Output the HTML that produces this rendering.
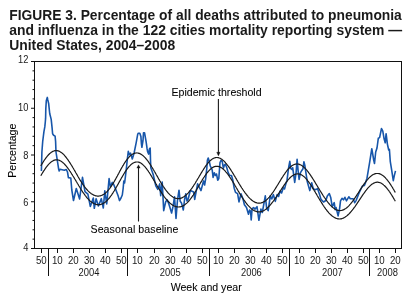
<!DOCTYPE html>
<html><head><meta charset="utf-8"><style>
html,body{margin:0;padding:0;background:#fff;width:412px;height:307px;overflow:hidden}
svg{display:block;will-change:transform}
</style></head><body>
<svg width="412" height="307" viewBox="0 0 412 307">
<g font-family="Liberation Sans, sans-serif" font-weight="bold" font-size="13.9" fill="#1a1a1a">
<text x="9.2" y="20.2" font-size="13.84">FIGURE 3. Percentage of all deaths attributed to pneumonia</text>
<text x="9.2" y="34.5">and influenza in the 122 cities mortality reporting system —</text>
<text x="9.2" y="50.1">United States, 2004–2008</text>
</g>
<rect x="34.5" y="61.5" width="367.0" height="187.0" fill="none" stroke="#111" stroke-width="1"/>
<path d="M31.0,248.50 H34.5 M32.5,239.15 H34.5 M32.5,229.80 H34.5 M32.5,220.45 H34.5 M32.5,211.10 H34.5 M31.0,201.75 H34.5 M32.5,192.40 H34.5 M32.5,183.05 H34.5 M32.5,173.70 H34.5 M32.5,164.35 H34.5 M31.0,155.00 H34.5 M32.5,145.65 H34.5 M32.5,136.30 H34.5 M32.5,126.95 H34.5 M32.5,117.60 H34.5 M31.0,108.25 H34.5 M32.5,98.90 H34.5 M32.5,89.55 H34.5 M32.5,80.20 H34.5 M32.5,70.85 H34.5 M31.0,61.50 H34.5 M41.5,248.5 V253.0 M57.5,248.5 V253.0 M73.5,248.5 V253.0 M89.5,248.5 V253.0 M105.5,248.5 V253.0 M121.5,248.5 V253.0 M137.5,248.5 V253.0 M154.5,248.5 V253.0 M170.5,248.5 V253.0 M186.5,248.5 V253.0 M202.5,248.5 V253.0 M218.5,248.5 V253.0 M234.5,248.5 V253.0 M250.5,248.5 V253.0 M266.5,248.5 V253.0 M282.5,248.5 V253.0 M299.5,248.5 V253.0 M315.5,248.5 V253.0 M331.5,248.5 V253.0 M347.5,248.5 V253.0 M363.5,248.5 V253.0 M379.5,248.5 V253.0 M395.5,248.5 V253.0 M48.5,248.5 V276 M127.5,248.5 V276 M209.5,248.5 V276 M289.5,248.5 V276 M369.5,248.5 V276" stroke="#111" stroke-width="1" fill="none"/>
<g font-family="Liberation Sans, sans-serif" font-size="10.1" fill="#1a1a1a" text-anchor="middle">
<text transform="translate(41.3,264) scale(0.96,1)">50</text>
<text transform="translate(57.3,264) scale(0.96,1)">10</text>
<text transform="translate(73.3,264) scale(0.96,1)">20</text>
<text transform="translate(89.3,264) scale(0.96,1)">30</text>
<text transform="translate(105.3,264) scale(0.96,1)">40</text>
<text transform="translate(121.3,264) scale(0.96,1)">50</text>
<text transform="translate(137.3,264) scale(0.96,1)">10</text>
<text transform="translate(154.3,264) scale(0.96,1)">20</text>
<text transform="translate(170.3,264) scale(0.96,1)">30</text>
<text transform="translate(186.3,264) scale(0.96,1)">40</text>
<text transform="translate(202.3,264) scale(0.96,1)">50</text>
<text transform="translate(218.3,264) scale(0.96,1)">10</text>
<text transform="translate(234.3,264) scale(0.96,1)">20</text>
<text transform="translate(250.3,264) scale(0.96,1)">30</text>
<text transform="translate(266.3,264) scale(0.96,1)">40</text>
<text transform="translate(282.3,264) scale(0.96,1)">50</text>
<text transform="translate(299.3,264) scale(0.96,1)">10</text>
<text transform="translate(315.3,264) scale(0.96,1)">20</text>
<text transform="translate(331.3,264) scale(0.96,1)">30</text>
<text transform="translate(347.3,264) scale(0.96,1)">40</text>
<text transform="translate(363.3,264) scale(0.96,1)">50</text>
<text transform="translate(379.3,264) scale(0.96,1)">10</text>
<text transform="translate(395.3,264) scale(0.96,1)">20</text>
<text font-size="10.1" transform="translate(88.95,275.5) scale(0.93,1)">2004</text>
<text font-size="10.1" transform="translate(170.2,275.5) scale(0.93,1)">2005</text>
<text font-size="10.1" transform="translate(251.4,275.5) scale(0.93,1)">2006</text>
<text font-size="10.1" transform="translate(332.4,275.5) scale(0.93,1)">2007</text>
<text font-size="10.1" transform="translate(387.5,275.5) scale(0.93,1)">2008</text>
</g>
<g font-family="Liberation Sans, sans-serif" font-size="10.1" fill="#1a1a1a" text-anchor="end">
<text transform="translate(28.4,250.6) scale(0.92,1)">4</text>
<text transform="translate(28.4,206.3) scale(0.92,1)">6</text>
<text transform="translate(28.4,159.3) scale(0.92,1)">8</text>
<text transform="translate(28.4,110.6) scale(0.92,1)">10</text>
<text transform="translate(28.4,63.1) scale(0.92,1)">12</text>
</g>
<g font-family="Liberation Sans, sans-serif" font-size="10.6" fill="#000" stroke="#000" stroke-width="0.07">
<text x="171.5" y="95.8">Epidemic threshold</text>
<text x="90.5" y="232.7" letter-spacing="0.08">Seasonal baseline</text>
<text x="206.2" y="290.9" text-anchor="middle">Week and year</text>
<text transform="translate(15.6,150.7) rotate(-90)" text-anchor="middle">Percentage</text>
</g>
<path d="M41.4,171.0 L41.9,152.0 L42.7,141.5 L43.9,131.8 L44.8,126.9 L45.3,122.0 L45.6,118.4 L45.8,108.6 L46.3,100.8 L47.3,97.4 L47.8,99.9 L48.7,103.8 L49.7,113.5 L51.2,119.4 L52.1,127.9 L52.6,133.7 L53.6,135.2 L55.1,136.1 L55.6,141.5 L56.0,152.0 L57.5,161.7 L58.7,169.3 L59.2,171.0 L60.0,169.3 L64.3,170.3 L66.3,169.5 L67.5,172.0 L68.4,177.6 L70.8,178.0 L71.8,190.0 L73.5,200.5 L76.3,188.5 L79.6,199.0 L82.5,177.4 L85.0,191.7 L87.9,194.2 L90.3,206.4 L93.3,198.0 L94.3,208.3 L96.1,198.7 L98.4,206.0 L101.3,198.7 L103.3,208.0 L104.8,190.9 L106.7,204.0 L109.1,178.5 L110.4,187.0 L112.3,182.4 L113.6,184.3 L116.3,190.9 L118.2,196.1 L119.5,200.6 L121.0,198.0 L122.3,195.0 L123.2,188.0 L123.8,181.0 L124.6,183.0 L125.5,176.0 L126.3,169.0 L127.3,159.4 L128.3,151.4 L129.4,154.8 L130.5,153.1 L132.3,159.0 L134.1,153.0 L136.2,142.6 L137.7,134.3 L138.3,133.2 L139.8,133.2 L140.9,136.4 L141.4,143.7 L141.9,147.3 L143.0,140.5 L143.5,132.7 L144.5,132.7 L145.0,135.3 L146.1,141.6 L147.1,148.9 L147.7,152.0 L148.7,154.1 L149.4,149.0 L150.2,148.0 L150.5,160.0 L150.8,167.7 L151.7,170.2 L153.2,174.5 L155.2,183.3 L155.8,185.9 L157.8,189.3 L159.7,183.9 L160.7,195.6 L162.2,182.0 L163.7,210.6 L165.7,201.8 L167.2,199.8 L169.1,204.7 L171.6,213.0 L173.0,206.7 L174.5,196.9 L176.0,218.4 L177.5,200.0 L179.0,190.2 L180.2,201.3 L181.5,203.0 L183.3,210.0 L184.5,200.0 L185.8,193.9 L187.0,201.0 L188.2,199.0 L190.3,190.5 L193.7,192.0 L194.7,199.4 L197.6,183.8 L201.0,190.6 L203.5,180.9 L204.6,185.0 L205.7,178.5 L206.8,168.2 L207.4,160.3 L208.2,158.0 L209.1,160.8 L210.3,166.0 L211.4,168.2 L212.2,170.0 L213.1,177.4 L214.3,172.8 L215.4,175.5 L216.5,174.0 L217.7,180.2 L218.8,178.5 L219.4,170.5 L220.0,162.5 L221.1,160.3 L222.2,161.4 L223.4,168.2 L224.5,164.8 L225.4,164.2 L226.8,167.7 L228.2,172.6 L229.7,175.5 L231.5,175.5 L232.8,180.0 L234.2,188.2 L235.5,192.3 L237.6,193.7 L239.0,201.9 L241.0,193.7 L243.1,199.2 L244.4,204.7 L246.5,207.4 L248.5,214.2 L249.6,210.0 L250.6,211.5 L251.2,220.0 L252.1,208.6 L253.6,207.6 L255.0,209.1 L257.0,206.7 L258.9,220.3 L260.9,209.1 L262.3,212.5 L265.3,195.9 L266.7,208.6 L268.2,210.6 L270.3,195.8 L271.8,199.0 L273.4,194.6 L275.3,201.4 L277.1,194.6 L278.6,196.5 L280.2,190.9 L281.6,193.0 L283.3,187.8 L284.5,189.0 L285.8,184.1 L287.0,180.4 L288.3,170.0 L288.8,166.7 L289.8,161.4 L290.8,168.7 L292.2,169.7 L292.7,167.7 L294.7,182.4 L296.1,172.6 L297.1,159.4 L298.1,170.6 L299.1,179.4 L300.5,172.6 L302.0,170.2 L303.0,168.7 L303.9,161.8 L304.9,165.8 L305.9,172.6 L307.3,181.8 L309.8,190.6 L311.7,182.8 L313.2,188.7 L315.2,189.7 L317.6,188.7 L319.6,194.5 L321.0,199.4 L323.5,202.0 L325.9,200.5 L327.3,195.9 L329.3,193.5 L330.8,197.8 L332.2,206.6 L333.2,204.7 L334.2,202.7 L335.2,209.6 L336.1,207.6 L338.1,215.9 L339.6,208.6 L340.5,200.8 L342.0,198.3 L343.5,199.8 L344.9,197.3 L346.4,200.8 L348.8,196.8 L350.3,198.8 L353.2,198.8 L354.7,202.7 L356.2,200.3 L359.1,192.9 L360.5,190.0 L362.4,186.0 L364.4,185.4 L365.7,182.1 L367.0,178.2 L368.3,170.4 L369.6,162.6 L371.8,148.7 L373.7,160.0 L374.5,163.5 L375.7,152.0 L377.0,148.0 L378.3,138.3 L379.6,137.6 L381.5,128.5 L382.8,131.1 L384.1,138.9 L385.2,142.8 L386.1,133.7 L387.4,144.1 L388.7,150.0 L389.4,149.4 L390.3,161.7 L391.6,169.6 L393.3,180.6 L394.2,176.1 L395.5,170.9" stroke="#1756aa" stroke-width="1.6" fill="none" stroke-linejoin="round"/>
<path d="M40.8,165.9 L41.3,165.0 L41.8,164.2 L42.3,163.4 L42.8,162.6 L43.3,161.8 L43.8,161.0 L44.3,160.2 L44.8,159.5 L45.3,158.8 L45.8,158.1 L46.3,157.4 L46.8,156.8 L47.3,156.2 L47.8,155.6 L48.3,155.0 L48.8,154.5 L49.3,154.0 L49.8,153.5 L50.3,153.1 L50.8,152.7 L51.3,152.3 L51.8,152.0 L52.3,151.7 L52.8,151.4 L53.3,151.2 L53.8,151.0 L54.3,150.8 L54.8,150.7 L55.3,150.6 L55.8,150.6 L56.3,150.6 L56.8,150.6 L57.3,150.7 L57.8,150.8 L58.3,150.9 L58.8,151.1 L59.3,151.3 L59.8,151.6 L60.3,151.9 L60.8,152.2 L61.3,152.5 L61.8,152.9 L62.3,153.3 L62.8,153.7 L63.3,154.2 L63.8,154.7 L64.3,155.2 L64.8,155.8 L65.3,156.4 L65.8,157.0 L66.3,157.6 L66.8,158.3 L67.3,158.9 L67.8,159.6 L68.3,160.3 L68.8,161.1 L69.3,161.8 L69.8,162.6 L70.3,163.4 L70.8,164.2 L71.3,165.0 L71.8,165.8 L72.3,166.6 L72.8,167.5 L73.3,168.3 L73.8,169.2 L74.3,170.0 L74.8,170.9 L75.3,171.8 L75.8,172.7 L76.3,173.5 L76.8,174.4 L77.3,175.3 L77.8,176.2 L78.3,177.0 L78.8,177.9 L79.3,178.7 L79.8,179.6 L80.3,180.4 L80.8,181.2 L81.3,182.0 L81.8,182.8 L82.3,183.5 L82.8,184.3 L83.3,185.0 L83.8,185.7 L84.3,186.4 L84.8,187.0 L85.3,187.7 L85.8,188.3 L86.3,188.9 L86.8,189.5 L87.3,190.0 L87.8,190.6 L88.3,191.1 L88.8,191.6 L89.3,192.0 L89.8,192.5 L90.3,192.9 L90.8,193.3 L91.3,193.7 L91.8,194.0 L92.3,194.3 L92.8,194.6 L93.3,194.9 L93.8,195.1 L94.3,195.3 L94.8,195.5 L95.3,195.7 L95.8,195.8 L96.3,195.9 L96.8,196.0 L97.3,196.1 L97.8,196.1 L98.3,196.1 L98.8,196.1 L99.3,196.0 L99.8,195.9 L100.3,195.8 L100.8,195.7 L101.3,195.5 L101.8,195.3 L102.3,195.1 L102.8,194.8 L103.3,194.6 L103.8,194.2 L104.3,193.9 L104.8,193.5 L105.3,193.1 L105.8,192.7 L106.3,192.2 L106.8,191.8 L107.3,191.3 L107.8,190.7 L108.3,190.1 L108.8,189.6 L109.3,188.9 L109.8,188.3 L110.3,187.6 L110.8,186.9 L111.3,186.2 L111.8,185.4 L112.3,184.7 L112.8,183.9 L113.3,183.1 L113.8,182.2 L114.3,181.4 L114.8,180.5 L115.3,179.6 L115.8,178.7 L116.3,177.8 L116.8,176.9 L117.3,176.0 L117.8,175.0 L118.3,174.1 L118.8,173.2 L119.3,172.2 L119.8,171.3 L120.3,170.4 L120.8,169.4 L121.3,168.5 L121.8,167.6 L122.3,166.8 L122.8,165.9 L123.3,165.1 L123.8,164.2 L124.3,163.4 L124.8,162.7 L125.3,161.9 L125.8,161.2 L126.3,160.5 L126.8,159.8 L127.3,159.1 L127.8,158.5 L128.3,157.9 L128.8,157.4 L129.3,156.8 L129.8,156.3 L130.3,155.9 L130.8,155.4 L131.3,155.0 L131.8,154.7 L132.3,154.3 L132.8,154.0 L133.3,153.8 L133.8,153.6 L134.3,153.4 L134.8,153.2 L135.3,153.1 L135.8,153.0 L136.3,153.0 L136.8,152.9 L137.3,153.0 L137.8,153.0 L138.3,153.1 L138.8,153.3 L139.3,153.4 L139.8,153.6 L140.3,153.9 L140.8,154.1 L141.3,154.4 L141.8,154.7 L142.3,155.1 L142.8,155.5 L143.3,155.9 L143.8,156.4 L144.3,156.9 L144.8,157.4 L145.3,157.9 L145.8,158.5 L146.3,159.1 L146.8,159.7 L147.3,160.3 L147.8,161.0 L148.3,161.6 L148.8,162.4 L149.3,163.1 L149.8,163.8 L150.3,164.6 L150.8,165.4 L151.3,166.1 L151.8,167.0 L152.3,167.8 L152.8,168.6 L153.3,169.5 L153.8,170.3 L154.3,171.2 L154.8,172.0 L155.3,172.9 L155.8,173.8 L156.3,174.7 L156.8,175.5 L157.3,176.4 L157.8,177.3 L158.3,178.2 L158.8,179.1 L159.3,179.9 L159.8,180.8 L160.3,181.6 L160.8,182.5 L161.3,183.3 L161.8,184.1 L162.3,184.9 L162.8,185.7 L163.3,186.5 L163.8,187.2 L164.3,187.9 L164.8,188.7 L165.3,189.4 L165.8,190.0 L166.3,190.7 L166.8,191.3 L167.3,191.9 L167.8,192.5 L168.3,193.1 L168.8,193.6 L169.3,194.1 L169.8,194.6 L170.3,195.1 L170.8,195.5 L171.3,195.9 L171.8,196.3 L172.3,196.6 L172.8,197.0 L173.3,197.3 L173.8,197.5 L174.3,197.8 L174.8,198.0 L175.3,198.2 L175.8,198.3 L176.3,198.4 L176.8,198.5 L177.3,198.6 L177.8,198.6 L178.3,198.6 L178.8,198.6 L179.3,198.6 L179.8,198.5 L180.3,198.4 L180.8,198.2 L181.3,198.1 L181.8,197.9 L182.3,197.6 L182.8,197.4 L183.3,197.1 L183.8,196.8 L184.3,196.4 L184.8,196.1 L185.3,195.7 L185.8,195.3 L186.3,194.8 L186.8,194.3 L187.3,193.8 L187.8,193.3 L188.3,192.8 L188.8,192.2 L189.3,191.6 L189.8,191.0 L190.3,190.3 L190.8,189.7 L191.3,189.0 L191.8,188.3 L192.3,187.6 L192.8,186.8 L193.3,186.1 L193.8,185.3 L194.3,184.5 L194.8,183.8 L195.3,183.0 L195.8,182.1 L196.3,181.3 L196.8,180.5 L197.3,179.6 L197.8,178.8 L198.3,178.0 L198.8,177.1 L199.3,176.3 L199.8,175.4 L200.3,174.6 L200.8,173.7 L201.3,172.9 L201.8,172.1 L202.3,171.3 L202.8,170.5 L203.3,169.7 L203.8,168.9 L204.3,168.1 L204.8,167.4 L205.3,166.6 L205.8,165.9 L206.3,165.2 L206.8,164.6 L207.3,163.9 L207.8,163.3 L208.3,162.7 L208.8,162.1 L209.3,161.6 L209.8,161.1 L210.3,160.6 L210.8,160.2 L211.3,159.8 L211.8,159.4 L212.3,159.0 L212.8,158.7 L213.3,158.4 L213.8,158.2 L214.3,158.0 L214.8,157.8 L215.3,157.7 L215.8,157.6 L216.3,157.5 L216.8,157.5 L217.3,157.5 L217.8,157.6 L218.3,157.7 L218.8,157.8 L219.3,158.0 L219.8,158.2 L220.3,158.4 L220.8,158.7 L221.3,159.0 L221.8,159.3 L222.3,159.7 L222.8,160.1 L223.3,160.5 L223.8,160.9 L224.3,161.4 L224.8,161.9 L225.3,162.5 L225.8,163.1 L226.3,163.6 L226.8,164.3 L227.3,164.9 L227.8,165.6 L228.3,166.2 L228.8,166.9 L229.3,167.7 L229.8,168.4 L230.3,169.1 L230.8,169.9 L231.3,170.7 L231.8,171.5 L232.3,172.3 L232.8,173.1 L233.3,173.9 L233.8,174.7 L234.3,175.6 L234.8,176.4 L235.3,177.3 L235.8,178.1 L236.3,178.9 L236.8,179.8 L237.3,180.6 L237.8,181.5 L238.3,182.3 L238.8,183.1 L239.3,184.0 L239.8,184.8 L240.3,185.6 L240.8,186.4 L241.3,187.2 L241.8,188.0 L242.3,188.7 L242.8,189.5 L243.3,190.2 L243.8,191.0 L244.3,191.7 L244.8,192.4 L245.3,193.1 L245.8,193.7 L246.3,194.4 L246.8,195.0 L247.3,195.6 L247.8,196.2 L248.3,196.8 L248.8,197.3 L249.3,197.9 L249.8,198.4 L250.3,198.9 L250.8,199.3 L251.3,199.8 L251.8,200.2 L252.3,200.6 L252.8,200.9 L253.3,201.3 L253.8,201.6 L254.3,201.9 L254.8,202.1 L255.3,202.4 L255.8,202.6 L256.3,202.7 L256.8,202.9 L257.3,203.0 L257.8,203.1 L258.3,203.2 L258.8,203.2 L259.3,203.2 L259.8,203.2 L260.3,203.1 L260.8,203.0 L261.3,202.9 L261.8,202.7 L262.3,202.6 L262.8,202.4 L263.3,202.1 L263.8,201.8 L264.3,201.6 L264.8,201.2 L265.3,200.9 L265.8,200.5 L266.3,200.1 L266.8,199.6 L267.3,199.2 L267.8,198.7 L268.3,198.2 L268.8,197.6 L269.3,197.1 L269.8,196.5 L270.3,195.9 L270.8,195.2 L271.3,194.6 L271.8,193.9 L272.3,193.2 L272.8,192.5 L273.3,191.8 L273.8,191.0 L274.3,190.3 L274.8,189.5 L275.3,188.7 L275.8,187.9 L276.3,187.1 L276.8,186.3 L277.3,185.5 L277.8,184.7 L278.3,183.9 L278.8,183.0 L279.3,182.2 L279.8,181.4 L280.3,180.6 L280.8,179.7 L281.3,178.9 L281.8,178.1 L282.3,177.3 L282.8,176.6 L283.3,175.8 L283.8,175.0 L284.3,174.3 L284.8,173.6 L285.3,172.8 L285.8,172.2 L286.3,171.5 L286.8,170.8 L287.3,170.2 L287.8,169.6 L288.3,169.0 L288.8,168.5 L289.3,168.0 L289.8,167.5 L290.3,167.0 L290.8,166.6 L291.3,166.2 L291.8,165.8 L292.3,165.5 L292.8,165.2 L293.3,164.9 L293.8,164.7 L294.3,164.5 L294.8,164.3 L295.3,164.2 L295.8,164.1 L296.3,164.0 L296.8,164.0 L297.3,164.0 L297.8,164.0 L298.3,164.1 L298.8,164.2 L299.3,164.4 L299.8,164.6 L300.3,164.8 L300.8,165.0 L301.3,165.3 L301.8,165.6 L302.3,165.9 L302.8,166.3 L303.3,166.7 L303.8,167.1 L304.3,167.6 L304.8,168.1 L305.3,168.6 L305.8,169.1 L306.3,169.7 L306.8,170.2 L307.3,170.8 L307.8,171.5 L308.3,172.1 L308.8,172.8 L309.3,173.5 L309.8,174.2 L310.3,174.9 L310.8,175.6 L311.3,176.4 L311.8,177.1 L312.3,177.9 L312.8,178.7 L313.3,179.5 L313.8,180.3 L314.3,181.1 L314.8,181.9 L315.3,182.7 L315.8,183.6 L316.3,184.4 L316.8,185.2 L317.3,186.0 L317.8,186.9 L318.3,187.7 L318.8,188.5 L319.3,189.4 L319.8,190.2 L320.3,191.0 L320.8,191.8 L321.3,192.6 L321.8,193.4 L322.3,194.2 L322.8,195.0 L323.3,195.8 L323.8,196.5 L324.3,197.3 L324.8,198.0 L325.3,198.7 L325.8,199.5 L326.3,200.2 L326.8,200.8 L327.3,201.5 L327.8,202.2 L328.3,202.8 L328.8,203.4 L329.3,204.0 L329.8,204.6 L330.3,205.1 L330.8,205.6 L331.3,206.1 L331.8,206.6 L332.3,207.1 L332.8,207.5 L333.3,207.9 L333.8,208.3 L334.3,208.6 L334.8,209.0 L335.3,209.3 L335.8,209.5 L336.3,209.8 L336.8,210.0 L337.3,210.1 L337.8,210.3 L338.3,210.4 L338.8,210.5 L339.3,210.5 L339.8,210.6 L340.3,210.6 L340.8,210.5 L341.3,210.5 L341.8,210.4 L342.3,210.2 L342.8,210.1 L343.3,209.9 L343.8,209.6 L344.3,209.4 L344.8,209.1 L345.3,208.8 L345.8,208.5 L346.3,208.1 L346.8,207.7 L347.3,207.3 L347.8,206.8 L348.3,206.3 L348.8,205.8 L349.3,205.3 L349.8,204.7 L350.3,204.2 L350.8,203.6 L351.3,203.0 L351.8,202.3 L352.3,201.7 L352.8,201.0 L353.3,200.3 L353.8,199.6 L354.3,198.9 L354.8,198.1 L355.3,197.4 L355.8,196.6 L356.3,195.9 L356.8,195.1 L357.3,194.3 L357.8,193.5 L358.3,192.8 L358.8,192.0 L359.3,191.2 L359.8,190.4 L360.3,189.6 L360.8,188.9 L361.3,188.1 L361.8,187.4 L362.3,186.6 L362.8,185.9 L363.3,185.1 L363.8,184.4 L364.3,183.7 L364.8,183.0 L365.3,182.4 L365.8,181.7 L366.3,181.1 L366.8,180.4 L367.3,179.8 L367.8,179.3 L368.3,178.7 L368.8,178.2 L369.3,177.7 L369.8,177.2 L370.3,176.7 L370.8,176.3 L371.3,175.9 L371.8,175.5 L372.3,175.1 L372.8,174.8 L373.3,174.5 L373.8,174.3 L374.3,174.1 L374.8,173.9 L375.3,173.7 L375.8,173.6 L376.3,173.5 L376.8,173.5 L377.3,173.5 L377.8,173.5 L378.3,173.5 L378.8,173.6 L379.3,173.7 L379.8,173.9 L380.3,174.1 L380.8,174.3 L381.3,174.6 L381.8,174.8 L382.3,175.2 L382.8,175.5 L383.3,175.9 L383.8,176.3 L384.3,176.8 L384.8,177.2 L385.3,177.7 L385.8,178.3 L386.3,178.8 L386.8,179.4 L387.3,180.0 L387.8,180.7 L388.3,181.3 L388.8,182.0 L389.3,182.7 L389.8,183.4 L390.3,184.2 L390.8,184.9 L391.3,185.7 L391.8,186.5 L392.3,187.3 L392.8,188.1 L393.3,189.0 L393.8,189.8 L394.3,190.7 L394.8,191.6 L395.3,192.5" stroke="#1a1a1a" stroke-width="1.2" fill="none"/>
<path d="M40.8,175.7 L41.3,174.9 L41.8,174.0 L42.3,173.2 L42.8,172.4 L43.3,171.6 L43.8,170.8 L44.3,170.1 L44.8,169.3 L45.3,168.6 L45.8,167.9 L46.3,167.2 L46.8,166.5 L47.3,165.9 L47.8,165.3 L48.3,164.7 L48.8,164.2 L49.3,163.6 L49.8,163.1 L50.3,162.7 L50.8,162.3 L51.3,161.9 L51.8,161.5 L52.3,161.2 L52.8,160.9 L53.3,160.6 L53.8,160.4 L54.3,160.2 L54.8,160.1 L55.3,159.9 L55.8,159.9 L56.3,159.8 L56.8,159.8 L57.3,159.9 L57.8,159.9 L58.3,160.0 L58.8,160.2 L59.3,160.3 L59.8,160.6 L60.3,160.8 L60.8,161.1 L61.3,161.4 L61.8,161.7 L62.3,162.1 L62.8,162.5 L63.3,163.0 L63.8,163.4 L64.3,163.9 L64.8,164.5 L65.3,165.0 L65.8,165.6 L66.3,166.2 L66.8,166.8 L67.3,167.4 L67.8,168.1 L68.3,168.8 L68.8,169.5 L69.3,170.2 L69.8,171.0 L70.3,171.7 L70.8,172.5 L71.3,173.3 L71.8,174.1 L72.3,174.8 L72.8,175.7 L73.3,176.5 L73.8,177.3 L74.3,178.1 L74.8,179.0 L75.3,179.8 L75.8,180.6 L76.3,181.5 L76.8,182.3 L77.3,183.2 L77.8,184.0 L78.3,184.8 L78.8,185.7 L79.3,186.5 L79.8,187.3 L80.3,188.2 L80.8,189.0 L81.3,189.8 L81.8,190.5 L82.3,191.3 L82.8,192.1 L83.3,192.8 L83.8,193.5 L84.3,194.2 L84.8,194.9 L85.3,195.6 L85.8,196.2 L86.3,196.9 L86.8,197.5 L87.3,198.1 L87.8,198.6 L88.3,199.2 L88.8,199.7 L89.3,200.2 L89.8,200.6 L90.3,201.1 L90.8,201.5 L91.3,201.9 L91.8,202.3 L92.3,202.6 L92.8,202.9 L93.3,203.2 L93.8,203.5 L94.3,203.8 L94.8,204.0 L95.3,204.2 L95.8,204.3 L96.3,204.5 L96.8,204.6 L97.3,204.7 L97.8,204.7 L98.3,204.8 L98.8,204.8 L99.3,204.7 L99.8,204.7 L100.3,204.6 L100.8,204.5 L101.3,204.3 L101.8,204.1 L102.3,203.9 L102.8,203.7 L103.3,203.4 L103.8,203.1 L104.3,202.8 L104.8,202.5 L105.3,202.1 L105.8,201.7 L106.3,201.2 L106.8,200.8 L107.3,200.3 L107.8,199.7 L108.3,199.2 L108.8,198.6 L109.3,198.0 L109.8,197.4 L110.3,196.7 L110.8,196.0 L111.3,195.3 L111.8,194.6 L112.3,193.8 L112.8,193.1 L113.3,192.3 L113.8,191.5 L114.3,190.7 L114.8,189.8 L115.3,189.0 L115.8,188.1 L116.3,187.2 L116.8,186.4 L117.3,185.5 L117.8,184.6 L118.3,183.7 L118.8,182.8 L119.3,181.9 L119.8,181.0 L120.3,180.1 L120.8,179.2 L121.3,178.3 L121.8,177.4 L122.3,176.6 L122.8,175.7 L123.3,174.9 L123.8,174.0 L124.3,173.2 L124.8,172.4 L125.3,171.6 L125.8,170.9 L126.3,170.2 L126.8,169.4 L127.3,168.8 L127.8,168.1 L128.3,167.5 L128.8,166.9 L129.3,166.3 L129.8,165.8 L130.3,165.3 L130.8,164.8 L131.3,164.4 L131.8,164.0 L132.3,163.6 L132.8,163.3 L133.3,163.0 L133.8,162.7 L134.3,162.5 L134.8,162.3 L135.3,162.2 L135.8,162.1 L136.3,162.0 L136.8,162.0 L137.3,162.0 L137.8,162.0 L138.3,162.1 L138.8,162.2 L139.3,162.4 L139.8,162.6 L140.3,162.8 L140.8,163.1 L141.3,163.4 L141.8,163.8 L142.3,164.2 L142.8,164.6 L143.3,165.1 L143.8,165.6 L144.3,166.1 L144.8,166.6 L145.3,167.2 L145.8,167.8 L146.3,168.5 L146.8,169.1 L147.3,169.8 L147.8,170.5 L148.3,171.2 L148.8,172.0 L149.3,172.7 L149.8,173.5 L150.3,174.3 L150.8,175.1 L151.3,175.9 L151.8,176.7 L152.3,177.6 L152.8,178.4 L153.3,179.2 L153.8,180.1 L154.3,180.9 L154.8,181.8 L155.3,182.6 L155.8,183.5 L156.3,184.3 L156.8,185.2 L157.3,186.0 L157.8,186.8 L158.3,187.7 L158.8,188.5 L159.3,189.3 L159.8,190.1 L160.3,190.9 L160.8,191.7 L161.3,192.4 L161.8,193.2 L162.3,193.9 L162.8,194.7 L163.3,195.4 L163.8,196.1 L164.3,196.8 L164.8,197.4 L165.3,198.1 L165.8,198.7 L166.3,199.3 L166.8,199.9 L167.3,200.4 L167.8,201.0 L168.3,201.5 L168.8,202.0 L169.3,202.5 L169.8,203.0 L170.3,203.4 L170.8,203.8 L171.3,204.2 L171.8,204.6 L172.3,204.9 L172.8,205.2 L173.3,205.5 L173.8,205.8 L174.3,206.0 L174.8,206.2 L175.3,206.4 L175.8,206.6 L176.3,206.7 L176.8,206.8 L177.3,206.9 L177.8,206.9 L178.3,207.0 L178.8,207.0 L179.3,206.9 L179.8,206.9 L180.3,206.8 L180.8,206.7 L181.3,206.5 L181.8,206.4 L182.3,206.2 L182.8,205.9 L183.3,205.7 L183.8,205.4 L184.3,205.1 L184.8,204.7 L185.3,204.3 L185.8,203.9 L186.3,203.5 L186.8,203.1 L187.3,202.6 L187.8,202.1 L188.3,201.5 L188.8,201.0 L189.3,200.4 L189.8,199.8 L190.3,199.2 L190.8,198.5 L191.3,197.8 L191.8,197.1 L192.3,196.4 L192.8,195.7 L193.3,195.0 L193.8,194.2 L194.3,193.4 L194.8,192.6 L195.3,191.8 L195.8,191.0 L196.3,190.1 L196.8,189.3 L197.3,188.5 L197.8,187.6 L198.3,186.7 L198.8,185.9 L199.3,185.0 L199.8,184.2 L200.3,183.3 L200.8,182.4 L201.3,181.6 L201.8,180.8 L202.3,179.9 L202.8,179.1 L203.3,178.3 L203.8,177.5 L204.3,176.8 L204.8,176.0 L205.3,175.3 L205.8,174.6 L206.3,173.9 L206.8,173.2 L207.3,172.6 L207.8,172.0 L208.3,171.4 L208.8,170.8 L209.3,170.3 L209.8,169.8 L210.3,169.3 L210.8,168.9 L211.3,168.5 L211.8,168.1 L212.3,167.7 L212.8,167.4 L213.3,167.2 L213.8,166.9 L214.3,166.7 L214.8,166.6 L215.3,166.4 L215.8,166.3 L216.3,166.3 L216.8,166.3 L217.3,166.3 L217.8,166.3 L218.3,166.4 L218.8,166.6 L219.3,166.7 L219.8,166.9 L220.3,167.2 L220.8,167.4 L221.3,167.7 L221.8,168.0 L222.3,168.4 L222.8,168.8 L223.3,169.2 L223.8,169.7 L224.3,170.2 L224.8,170.7 L225.3,171.2 L225.8,171.8 L226.3,172.3 L226.8,173.0 L227.3,173.6 L227.8,174.2 L228.3,174.9 L228.8,175.6 L229.3,176.3 L229.8,177.1 L230.3,177.8 L230.8,178.6 L231.3,179.4 L231.8,180.2 L232.3,181.0 L232.8,181.8 L233.3,182.6 L233.8,183.4 L234.3,184.3 L234.8,185.1 L235.3,186.0 L235.8,186.8 L236.3,187.7 L236.8,188.5 L237.3,189.4 L237.8,190.2 L238.3,191.1 L238.8,191.9 L239.3,192.7 L239.8,193.6 L240.3,194.4 L240.8,195.2 L241.3,196.0 L241.8,196.8 L242.3,197.6 L242.8,198.3 L243.3,199.1 L243.8,199.8 L244.3,200.5 L244.8,201.2 L245.3,201.9 L245.8,202.6 L246.3,203.2 L246.8,203.9 L247.3,204.5 L247.8,205.1 L248.3,205.6 L248.8,206.2 L249.3,206.7 L249.8,207.2 L250.3,207.7 L250.8,208.1 L251.3,208.6 L251.8,209.0 L252.3,209.4 L252.8,209.7 L253.3,210.1 L253.8,210.4 L254.3,210.7 L254.8,210.9 L255.3,211.1 L255.8,211.3 L256.3,211.5 L256.8,211.6 L257.3,211.8 L257.8,211.8 L258.3,211.9 L258.8,211.9 L259.3,211.9 L259.8,211.9 L260.3,211.8 L260.8,211.7 L261.3,211.6 L261.8,211.5 L262.3,211.3 L262.8,211.1 L263.3,210.8 L263.8,210.6 L264.3,210.3 L264.8,210.0 L265.3,209.6 L265.8,209.2 L266.3,208.9 L266.8,208.4 L267.3,208.0 L267.8,207.5 L268.3,207.0 L268.8,206.5 L269.3,206.0 L269.8,205.5 L270.3,204.9 L270.8,204.3 L271.3,203.7 L271.8,203.1 L272.3,202.5 L272.8,201.8 L273.3,201.2 L273.8,200.5 L274.3,199.8 L274.8,199.1 L275.3,198.4 L275.8,197.7 L276.3,197.0 L276.8,196.2 L277.3,195.5 L277.8,194.8 L278.3,194.0 L278.8,193.2 L279.3,192.5 L279.8,191.7 L280.3,191.0 L280.8,190.2 L281.3,189.4 L281.8,188.7 L282.3,187.9 L282.8,187.2 L283.3,186.4 L283.8,185.7 L284.3,184.9 L284.8,184.2 L285.3,183.5 L285.8,182.8 L286.3,182.1 L286.8,181.5 L287.3,180.9 L287.8,180.2 L288.3,179.6 L288.8,179.1 L289.3,178.5 L289.8,178.0 L290.3,177.5 L290.8,177.0 L291.3,176.6 L291.8,176.2 L292.3,175.8 L292.8,175.5 L293.3,175.2 L293.8,174.9 L294.3,174.7 L294.8,174.4 L295.3,174.3 L295.8,174.1 L296.3,174.0 L296.8,173.9 L297.3,173.9 L297.8,173.9 L298.3,173.9 L298.8,174.0 L299.3,174.1 L299.8,174.2 L300.3,174.4 L300.8,174.6 L301.3,174.8 L301.8,175.1 L302.3,175.4 L302.8,175.7 L303.3,176.1 L303.8,176.5 L304.3,176.9 L304.8,177.4 L305.3,177.9 L305.8,178.4 L306.3,179.0 L306.8,179.5 L307.3,180.1 L307.8,180.8 L308.3,181.4 L308.8,182.1 L309.3,182.8 L309.8,183.5 L310.3,184.2 L310.8,185.0 L311.3,185.7 L311.8,186.5 L312.3,187.3 L312.8,188.1 L313.3,188.9 L313.8,189.7 L314.3,190.6 L314.8,191.4 L315.3,192.2 L315.8,193.1 L316.3,193.9 L316.8,194.8 L317.3,195.7 L317.8,196.5 L318.3,197.4 L318.8,198.2 L319.3,199.0 L319.8,199.9 L320.3,200.7 L320.8,201.5 L321.3,202.3 L321.8,203.1 L322.3,203.9 L322.8,204.7 L323.3,205.5 L323.8,206.2 L324.3,207.0 L324.8,207.7 L325.3,208.4 L325.8,209.1 L326.3,209.7 L326.8,210.4 L327.3,211.0 L327.8,211.6 L328.3,212.2 L328.8,212.8 L329.3,213.3 L329.8,213.8 L330.3,214.3 L330.8,214.8 L331.3,215.2 L331.8,215.7 L332.3,216.1 L332.8,216.4 L333.3,216.8 L333.8,217.1 L334.3,217.4 L334.8,217.7 L335.3,217.9 L335.8,218.2 L336.3,218.4 L336.8,218.5 L337.3,218.7 L337.8,218.8 L338.3,218.9 L338.8,218.9 L339.3,219.0 L339.8,219.0 L340.3,218.9 L340.8,218.9 L341.3,218.8 L341.8,218.6 L342.3,218.5 L342.8,218.3 L343.3,218.1 L343.8,217.9 L344.3,217.6 L344.8,217.3 L345.3,217.0 L345.8,216.6 L346.3,216.3 L346.8,215.9 L347.3,215.5 L347.8,215.0 L348.3,214.5 L348.8,214.1 L349.3,213.5 L349.8,213.0 L350.3,212.5 L350.8,211.9 L351.3,211.3 L351.8,210.7 L352.3,210.1 L352.8,209.4 L353.3,208.8 L353.8,208.1 L354.3,207.4 L354.8,206.8 L355.3,206.1 L355.8,205.3 L356.3,204.6 L356.8,203.9 L357.3,203.1 L357.8,202.4 L358.3,201.7 L358.8,200.9 L359.3,200.2 L359.8,199.4 L360.3,198.6 L360.8,197.9 L361.3,197.1 L361.8,196.4 L362.3,195.6 L362.8,194.9 L363.3,194.2 L363.8,193.5 L364.3,192.8 L364.8,192.1 L365.3,191.4 L365.8,190.7 L366.3,190.1 L366.8,189.4 L367.3,188.8 L367.8,188.2 L368.3,187.6 L368.8,187.1 L369.3,186.6 L369.8,186.1 L370.3,185.6 L370.8,185.1 L371.3,184.7 L371.8,184.3 L372.3,184.0 L372.8,183.7 L373.3,183.4 L373.8,183.1 L374.3,182.9 L374.8,182.7 L375.3,182.5 L375.8,182.4 L376.3,182.3 L376.8,182.2 L377.3,182.2 L377.8,182.2 L378.3,182.3 L378.8,182.3 L379.3,182.5 L379.8,182.6 L380.3,182.8 L380.8,183.0 L381.3,183.3 L381.8,183.6 L382.3,183.9 L382.8,184.2 L383.3,184.6 L383.8,185.1 L384.3,185.5 L384.8,186.0 L385.3,186.5 L385.8,187.0 L386.3,187.6 L386.8,188.2 L387.3,188.8 L387.8,189.4 L388.3,190.1 L388.8,190.7 L389.3,191.5 L389.8,192.2 L390.3,192.9 L390.8,193.7 L391.3,194.5 L391.8,195.3 L392.3,196.1 L392.8,196.9 L393.3,197.7 L393.8,198.6 L394.3,199.5 L394.8,200.3 L395.3,201.2" stroke="#1a1a1a" stroke-width="1.2" fill="none"/>
<path d="M218.4,99 V153" stroke="#1a1a1a" stroke-width="1.1"/>
<path d="M216.7,152.2 L220.1,152.2 L218.4,155.9 Z" fill="#111" stroke="#111" stroke-width="0.3" stroke-linejoin="round"/>
<path d="M138.5,221.5 V167.5" stroke="#1a1a1a" stroke-width="1.1"/>
<path d="M136.8,168.1 L140.2,168.1 L138.5,164.8 Z" fill="#111" stroke="#111" stroke-width="0.3" stroke-linejoin="round"/>
</svg>
</body></html>
